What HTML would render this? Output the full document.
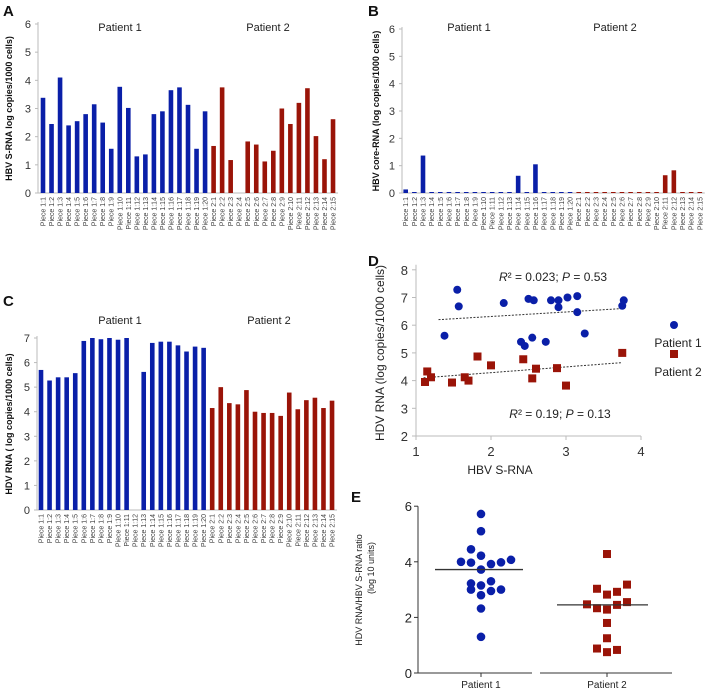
<!DOCTYPE html>
<html><head><meta charset="utf-8"><style>
html,body{margin:0;padding:0;background:#fff;}
svg{display:block;font-family:"Liberation Sans",sans-serif;}
</style></head><body>
<svg id="fig" width="709" height="692" viewBox="0 0 709 692"></svg>
<script>
// ---------- DATA ----------
const pieceLabels1 = Array.from({length:20},(_,i)=>'Piece 1:'+(i+1));
const pieceLabels2 = Array.from({length:15},(_,i)=>'Piece 2:'+(i+1));
const aP1 = [3.38,2.45,4.1,2.4,2.55,2.8,3.15,2.5,1.57,3.77,3.02,1.3,1.37,2.8,2.9,3.65,3.75,3.13,1.57,2.9];
const aP2 = [1.67,3.75,1.17,0,1.83,1.72,1.12,1.5,3.0,2.45,3.2,3.72,2.02,1.2,2.62];
const bP1 = [0.13,0,1.37,0,0,0,0,0,0,0,0,0,0,0.63,0,1.05,0,0,0,0];
const bP2 = [0,0,0,0,0,0,0,0,0,0,0.65,0.83,0,0,0];
const cP1 = [5.7,5.27,5.4,5.4,5.57,6.88,7.0,6.95,7.0,6.93,7.0,0,5.62,6.8,6.85,6.85,6.7,6.45,6.65,6.6];
const cP2 = [4.15,5.0,4.35,4.3,4.88,4.0,3.95,3.95,3.83,4.78,4.1,4.47,4.57,4.15,4.45];
const dBlueX = [1.38,1.57,1.55,2.17,2.4,2.45,2.55,2.73,2.5,2.57,2.8,2.9,2.9,3.02,3.15,3.15,3.25,3.75,3.77];
const dBlueY = [5.62,6.68,7.28,6.8,5.4,5.25,5.55,5.4,6.95,6.9,6.9,6.9,6.65,7.0,7.05,6.47,5.7,6.7,6.9];
const dRedX = [1.12,1.15,1.2,1.48,1.65,1.7,1.82,2.0,2.43,2.55,2.6,2.88,3.0,3.75];
const dRedY = [3.95,4.33,4.12,3.93,4.12,4.0,4.87,4.55,4.77,4.08,4.43,4.45,3.82,5.0];
const dBlueTrend = [[1.3,6.2],[3.75,6.6]];
const dRedTrend = [[1.1,4.1],[3.75,4.65]];
const eP1 = [4.0,4.45,3.97,5.72,5.1,4.22,3.72,3.15,2.8,2.32,1.3,3.22,3.0,3.92,3.3,2.95,3.98,3.0,4.07];
const eP1Slot = [-2,-1,-1,0,0,0,0,0,0,0,0,-1,-1,1,1,1,2,2,3];
const eP2 = [2.47,3.03,2.33,0.88,4.28,2.82,2.28,1.8,1.25,0.75,2.92,2.45,0.83,3.18,2.55];
const eP2Slot = [-2,-1,-1,-1,0,0,0,0,0,0,1,1,1,2,2];
const eMeans = [3.72,2.45];

const BLUE='#0a1fa8', RED='#9a1408', AX='#bbbbbb';
const svg=document.getElementById('fig');
const NS='http://www.w3.org/2000/svg';
function mk(tag,attrs,parent){const e=document.createElementNS(NS,tag);for(const k in attrs)e.setAttribute(k,attrs[k]);(parent||svg).appendChild(e);return e;}
function txt(s,attrs,parent){const e=mk('text',attrs,parent);e.textContent=s;return e;}

function barPanel(id,opt){
  const g=mk('g',{});
  
  
  const y=v=>opt.y0-(v/opt.max)*(opt.y0-opt.yTop);
  const x=i=>opt.x0+i*opt.step;
  const ax=mk('line',{x1:opt.axX,y1:opt.yTop-2,x2:opt.axX,y2:opt.y0,stroke:AX},g);
  
  const xa=mk('line',{x1:opt.axX,y1:opt.y0,x2:x(34)+5,y2:opt.y0,stroke:AX},g);
  
  for(let t=0;t<=opt.max;t++){
    mk('line',{x1:opt.axX-3,y1:y(t),x2:opt.axX,y2:y(t),stroke:AX},g);
    const tl=txt(String(t),{x:opt.axX-7,y:y(t)+4,'font-size':11,'text-anchor':'end',fill:'#333'},g);
    
  }
  const vals=opt.p1.concat(opt.p2), labs=pieceLabels1.concat(pieceLabels2);
  vals.forEach((v,i)=>{
    const col=i<20?BLUE:RED;
    const h=Math.max(opt.y0-y(v),v===0&&opt.zeroLine?1:0);
    const r=mk('rect',{x:x(i)-2.3,y:opt.y0-h,width:4.6,height:h,fill:col},g);
    
    
    const lx=x(i)+2.5, ly=opt.y0+4;
    const l=txt(labs[i],{x:lx,y:ly,'font-size':7,'text-anchor':'end',fill:'#444',transform:`rotate(-90 ${lx} ${ly})`},g);
    
  });
  const p1=txt('Patient 1',{x:opt.p1x,y:opt.py,'font-size':11,'text-anchor':'middle',fill:'#222'},g);
  
  const p2=txt('Patient 2',{x:opt.p2x,y:opt.py,'font-size':11,'text-anchor':'middle',fill:'#222'},g);
  
  const yt=txt(opt.ytitle,{x:opt.ytX,y:(opt.y0+opt.yTop)/2,'font-size':9,'font-weight':'bold','text-anchor':'middle',fill:'#111',transform:`rotate(-90 ${opt.ytX} ${(opt.y0+opt.yTop)/2})`},g);
  
  const pl=txt(opt.letter,{x:opt.lx,y:opt.ly,'font-size':15,'font-weight':'bold',fill:'#111'},g);
  
}

barPanel('a',{p1:aP1,p2:aP2,max:6,y0:193,yTop:24,axX:38,x0:43,step:8.53,p1x:120,p2x:268,py:31,ytitle:'HBV S-RNA log copies/1000 cells)',ytX:12,letter:'A',lx:3,ly:16});
barPanel('b',{p1:bP1,p2:bP2,max:6,y0:193,yTop:29,axX:402,x0:405.7,step:8.65,p1x:469,p2x:615,py:31,ytitle:'HBV core-RNA (log copies/1000 cells)',ytX:379,letter:'B',lx:368,ly:16,zeroLine:true});
barPanel('c',{p1:cP1,p2:cP2,max:7,y0:510,yTop:338,axX:37,x0:41,step:8.56,p1x:120,p2x:269,py:324,ytitle:'HDV RNA ( log copies/1000 cells)',ytX:12,letter:'C',lx:3,ly:306});

// ---------- Panel D ----------
(function(){
  const g=mk('g',{});
  const X=v=>416+(v-1)*75, Y=v=>436-(v-2)*27.7;
  const ya=mk('line',{x1:416,y1:Y(8)-5,x2:416,y2:436,stroke:AX},g);
  const xa=mk('line',{x1:416,y1:436,x2:641,y2:436,stroke:AX},g);
  for(let t=2;t<=8;t++){mk('line',{x1:412,y1:Y(t),x2:416,y2:Y(t),stroke:AX},g);
    const l=txt(String(t),{x:408,y:Y(t)+5,'font-size':13,'text-anchor':'end',fill:'#333'},g);}
  for(let t=1;t<=4;t++){mk('line',{x1:X(t),y1:436,x2:X(t),y2:440,stroke:AX},g);
    const l=txt(String(t),{x:X(t),y:456,'font-size':13,'text-anchor':'middle',fill:'#333'},g);}
  [[dBlueTrend,'trend-line-patient-1'],[dRedTrend,'trend-line-patient-2']].forEach(([t,n])=>{
    const l=mk('line',{x1:X(t[0][0]),y1:Y(t[0][1]),x2:X(t[1][0]),y2:Y(t[1][1]),stroke:'#333','stroke-dasharray':'2,1.5','stroke-width':1},g);
    });
  dBlueX.forEach((v,i)=>{const c=mk('circle',{cx:X(v),cy:Y(dBlueY[i]),r:4,fill:BLUE},g);});
  dRedX.forEach((v,i)=>{const c=mk('rect',{x:X(v)-4,y:Y(dRedY[i])-4,width:8,height:8,fill:RED},g);});
  const r1=txt('',{x:553,y:281,'font-size':12,'text-anchor':'middle',fill:'#222'},g);
  r1.innerHTML='<tspan font-style="italic">R</tspan>² = 0.023; <tspan font-style="italic">P</tspan> = 0.53';
  
  const r2=txt('',{x:560,y:418,'font-size':12,'text-anchor':'middle',fill:'#222'},g);
  r2.innerHTML='<tspan font-style="italic">R</tspan>² = 0.19; <tspan font-style="italic">P</tspan> = 0.13';
  
  const lb=mk('circle',{cx:674,cy:325,r:4,fill:BLUE},g);
  const lt1=txt('Patient 1',{x:678,y:347,'font-size':12,'text-anchor':'middle',fill:'#222'},g);
  const lr=mk('rect',{x:670,y:350,width:8,height:8,fill:RED},g);
  const lt2=txt('Patient 2',{x:678,y:376,'font-size':12,'text-anchor':'middle',fill:'#222'},g);
  const xt=txt('HBV S-RNA',{x:500,y:474,'font-size':12,'text-anchor':'middle',fill:'#222'},g);
  const yt=txt('HDV RNA  (log copies/1000 cells)',{x:384,y:353,'font-size':12,'text-anchor':'middle',fill:'#222',transform:'rotate(-90 384 353)'},g);
  const pl=txt('D',{x:368,y:266,'font-size':15,'font-weight':'bold',fill:'#111'},g);
})();

// ---------- Panel E ----------
(function(){
  const g=mk('g',{});
  const Y=v=>673-v*27.8, cx=[481,607], slot=10;
  const ya=mk('line',{x1:418,y1:Y(6),x2:418,y2:673,stroke:'#333'},g);
  const xa1=mk('line',{x1:418,y1:673,x2:532,y2:673,stroke:'#333'},g);
  const xa2=mk('line',{x1:540,y1:673,x2:672,y2:673,stroke:'#333'},g);
  for(let t=0;t<=6;t+=2){mk('line',{x1:414,y1:Y(t),x2:418,y2:Y(t),stroke:'#333'},g);
    const l=txt(String(t),{x:412,y:Y(t)+5,'font-size':13,'text-anchor':'end',fill:'#222'},g);}
  ['Patient 1','Patient 2'].forEach((s,i)=>{mk('line',{x1:cx[i],y1:673,x2:cx[i],y2:677,stroke:'#333'},g);
    const l=txt(s,{x:cx[i],y:688,'font-size':10,'text-anchor':'middle',fill:'#222'},g);});
  eP1.forEach((v,i)=>{const c=mk('circle',{cx:cx[0]+eP1Slot[i]*slot,cy:Y(v),r:4.3,fill:BLUE},g);});
  eP2.forEach((v,i)=>{const c=mk('rect',{x:cx[1]+eP2Slot[i]*slot-4,y:Y(v)-4,width:8,height:8,fill:RED},g);});
  const m1=mk('line',{x1:435,y1:Y(eMeans[0]),x2:523,y2:Y(eMeans[0]),stroke:'#333','stroke-width':1.3},g);
  const m2=mk('line',{x1:557,y1:Y(eMeans[1]),x2:648,y2:Y(eMeans[1]),stroke:'#333','stroke-width':1.3},g);
  const y1=txt('HDV RNA/HBV S-RNA ratio',{x:362,y:590,'font-size':9,'text-anchor':'middle',fill:'#222',transform:'rotate(-90 362 590)'},g);
  const y2=txt('(log 10 units)',{x:374,y:568,'font-size':9,'text-anchor':'middle',fill:'#222',transform:'rotate(-90 374 568)'},g);
  const pl=txt('E',{x:351,y:502,'font-size':15,'font-weight':'bold',fill:'#111'},g);
})();
</script>
</body></html>
